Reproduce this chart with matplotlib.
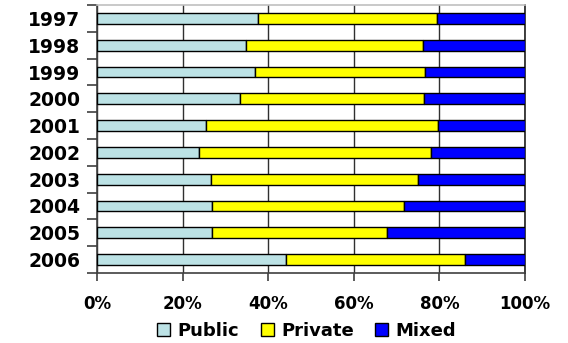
import matplotlib.pyplot as plt
import numpy as np

# 데이터
years = ['1997', '1998', '1999', '2000', '2001', '2002', '2003', '2004', '2005', '2006']
public = [37.5, 34.7, 36.8, 33.3, 25.4, 23.8, 26.6, 26.8, 26.9, 44.1]
private_end = [79.5, 76.2, 76.6, 76.5, 79.7, 78.0, 75.1, 71.7, 67.7, 86.0]
private = [p2 - p1 for p1, p2 in zip(public, private_end)]
mixed = [100 - p for p in private_end]

fig = plt.figure(figsize=(5.68, 3.43), dpi=100)
ax = fig.add_axes([0.1708, 0.2041, 0.7535, 0.7813])

y = np.arange(len(years))
h = 0.41
ax.barh(y, public, h, color='#BCE2E5', edgecolor='black', linewidth=1, label='Public', zorder=3)
ax.barh(y, private, h, left=public, color='#FFFF00', edgecolor='black', linewidth=1, label='Private', zorder=3)
ax.barh(y, mixed, h, left=private_end, color='#0000FF', edgecolor='black', linewidth=1, label='Mixed', zorder=3)

ax.set_xlim(0, 100)
ax.set_ylim(len(years) - 0.5, -0.5)

# x축
ax.set_xticks(range(0, 101, 20))
ax.set_xticklabels([f'{v}%' for v in range(0, 101, 20)], fontsize=12, fontweight='bold')
ax.tick_params(axis='x', length=6, width=1.2, color='#404040', pad=10)
ax.xaxis.grid(True, color='#303030', linewidth=1, zorder=0)

# y축 - 라벨은 가운데, 눈금은 경계에
ax.set_yticks(y)
ax.set_yticklabels(years, fontsize=13.5, fontweight='bold')
ax.tick_params(axis='y', which='major', length=0, pad=12)
ax.set_yticks(np.arange(-0.5, len(years)), minor=True)
ax.tick_params(axis='y', which='minor', length=7, width=1.2, color='#404040')

ax.spines['top'].set_color('#c0c0c0')
ax.spines['right'].set_color('#202020')
ax.spines['left'].set_color('#404040')
ax.spines['bottom'].set_color('#404040')
for s in ax.spines.values():
    s.set_linewidth(1.2)

fig.legend(loc='center', bbox_to_anchor=(0.54, 0.035), ncol=3, frameon=False,
           prop={'size': 13, 'weight': 'bold'}, handlelength=0.72, handleheight=0.72,
           handletextpad=0.4, columnspacing=1.2, borderpad=0)

fig.savefig('out.png', dpi=100)
